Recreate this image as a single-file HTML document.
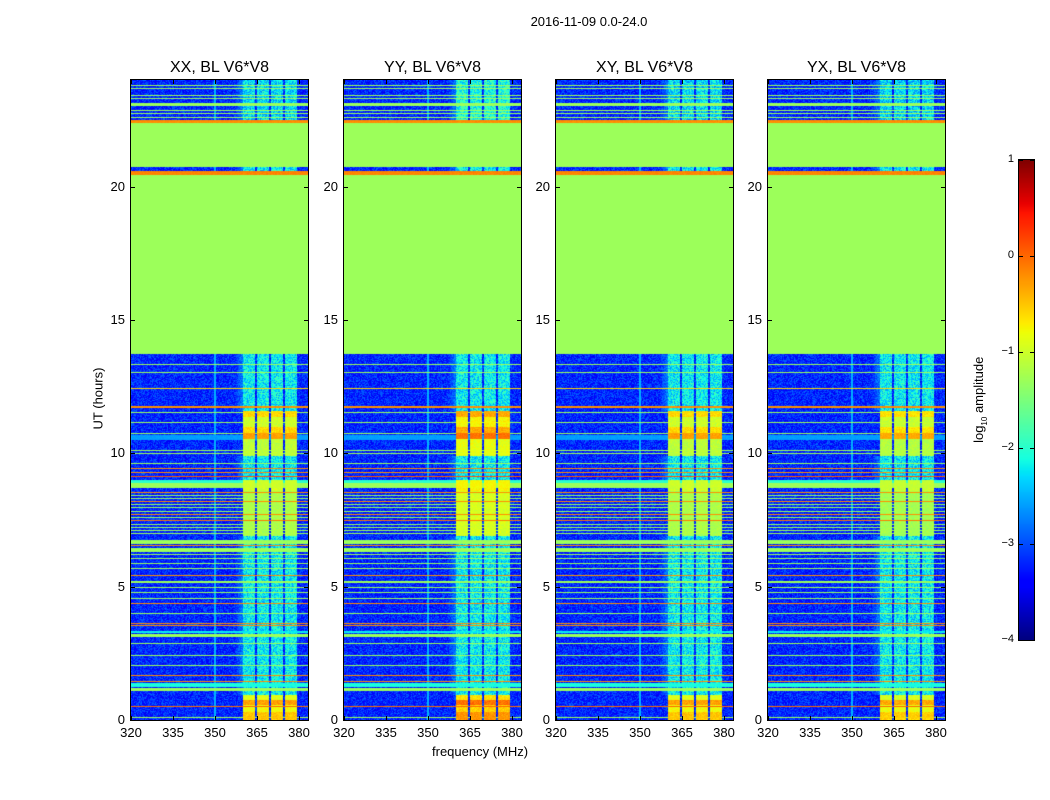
<!DOCTYPE html>
<html><head><meta charset="utf-8"><style>
body{margin:0;background:#fff;width:1050px;height:800px;position:relative;font-family:"Liberation Sans",sans-serif;overflow:hidden}
.abs{position:absolute}
canvas{position:absolute;display:block}
.t{position:absolute;font-size:13px;color:#000;white-space:nowrap}
</style></head><body>
<div class="t" style="left:0;width:1178px;top:14px;text-align:center">2016-11-09 0.0-24.0</div>
<div class="t" style="left:432px;top:744px">frequency (MHz)</div>
<div class="t" style="left:60px;top:391px;transform:rotate(-90deg);width:76px;text-align:center">UT (hours)</div>
<div id="panels"></div>
<canvas id="cb" width="15" height="480" style="left:1019px;top:160px"></canvas>
<div class="abs" style="left:1018px;top:159px;width:15px;height:480px;border:1px solid #000"></div>
<div class="t" style="left:925px;top:391px;transform:rotate(-90deg);width:110px;text-align:center">log<sub style="font-size:8px">10</sub> amplitude</div>
<div id="cbticks"></div>
<script>
// ---- data ----
const panelTitles = ["XX, BL V6*V8","YY, BL V6*V8","XY, BL V6*V8","YX, BL V6*V8"];
const panelLeft = [131,344,556,768];
const panelGain = [0,0.25,0,-0.05];
const xTicks = [320,335,350,365,380];
const yTicks = [0,5,10,15,20];
const cbTicks = [1,0,-1,-2,-3,-4];
const flagged = [[13.72,20.45,-1.3],[20.72,22.42,-1.3]];
const bands = [[20.45,20.57,-0.15],[22.40,22.50,-0.2],[23.02,23.14,-1.3],[8.7,8.9,-1.3],[8.9,9.0,-2.0],[6.6,6.75,-1.3],[6.3,6.45,-1.3],[5.14,5.2,-1.3],[3.1,3.22,-1.3],[3.25,3.35,-2.2],[1.09,1.2,-1.3],[1.24,1.39,-2.1],[11.70,11.78,-0.2],[10.5,10.7,-2.6]];
const lineHours = [23.81,23.7,23.44,23.33,22.87,22.76,22.61,13.35,13.06,12.45,11.55,11.18,10.77,10.12,10.0,9.64,9.45,9.3,9.15,8.55,8.45,8.33,8.22,8.1,7.99,7.84,7.72,7.6,7.49,7.35,7.24,7.12,7.0,6.56,6.22,6.07,5.89,5.7,5.44,4.99,4.8,4.57,4.39,4.01,3.64,3.55,2.89,2.44,2.06,1.69,1.46,0.52,0.11];
const lineVals  = [-1.3,-1.3,-1.3,-1.3,-1.3,-1.3,-1.3,-1.3,-1.3,-0.6,-1.3,-1.3,-1.3,-1.3,-1.3,-1.3,-0.2,-0.2,0.1,-0.2,-1.3,-1.3,-0.2,-1.3,-1.3,-1.3,-0.2,-1.3,-0.1,-1.3,-1.3,-1.3,-1.3,-0.2,-1.3,-1.3,-1.3,-1.3,-0.2,-1.3,-1.3,-1.3,-0.2,-1.3,-0.2,-0.2,-1.3,-1.3,-1.3,-0.2,-0.2,0.0,-1.3];
const rfiCols = [[360.0,364.3],[365.0,369.3],[370.0,374.3],[375.0,379.3]];
const rfiStart = [0.0,0.3,0.55,0.75,6.9,8.6,9.9,10.55,10.75,11.0,11.35,22.5];
const rfiEnd   = [0.3,0.55,0.75,0.95,8.6,9.0,10.55,10.75,11.0,11.35,11.6,24.0];
const rfiVals  = [-0.5,-0.8,-0.3,-0.9,-1.2,-1.0,-1.1,-0.3,-0.6,-1.0,-0.6,-2.3];
const rfiDefault = -2.2;
const bgVal = -3.2;
const vmin=-4, vmax=1;
const fmin=320, fmax=383.2, hmin=0, hmax=24;

// ---- helpers ----
function interp(pts,x){for(let i=1;i<pts.length;i++){if(x<=pts[i][0]){const a=pts[i-1],b=pts[i];return a[1]+(b[1]-a[1])*(x-a[0])/(b[0]-a[0]);}}return pts[pts.length-1][1];}
const R=[[0,0],[0.35,0],[0.66,1],[0.89,1],[1,0.5]],G=[[0,0],[0.125,0],[0.375,1],[0.64,1],[0.91,0],[1,0]],B=[[0,0.5],[0.11,1],[0.34,1],[0.65,0],[1,0]];
function jet(v){let x=(v-vmin)/(vmax-vmin);x=Math.max(0,Math.min(1,x));return [interp(R,x)*255,interp(G,x)*255,interp(B,x)*255];}
function hash(a,b){let h=(a*374761393+b*668265263)|0;h=(h^(h>>>13))*1274126177|0;return ((h^(h>>>16))>>>0)/4294967295-0.5;}
const W=177,H=640;
const xs=f=>(f-fmin)/(fmax-fmin)*W;
const ys=h=>H-(h-hmin)/(hmax-hmin)*H;

const cont=document.getElementById('panels');
panelLeft.forEach((L,p)=>{
  const cv=document.createElement('canvas');
  cv.width=W;cv.height=H;cv.style.left=L+'px';cv.style.top='80px';
  
  
  cont.appendChild(cv);
  const ctx=cv.getContext('2d');const img=ctx.createImageData(W,H);
  const lineRows=lineHours.map(h=>Math.round(ys(h)));
  for(let py=0;py<H;py++){
    const h=hmax-(py+0.5)/H*(hmax-hmin);
    let flag=null;for(const f of flagged)if(h>=f[0]&&h<f[1])flag=f[2];
    let band=null;for(const b of bands)if(h>=b[0]&&h<b[1])band=b[2];
    let li=lineRows.indexOf(py);let lv=li>=0?lineVals[li]:null;
    let col=rfiDefault;let strong=false;
    for(let i=0;i<rfiStart.length;i++)if(h>=rfiStart[i]&&h<rfiEnd[i]){col=rfiVals[i]+panelGain[p];strong=col>-1.5;}
    for(let px=0;px<W;px++){
      const f=fmin+(px+0.5)/W*(fmax-fmin);
      const n=hash(px+p*1000,py);
      let inCol=false;for(const c of rfiCols)if(f>=c[0]&&f<c[1])inCol=true;
      let v;
      if(flag!==null&&lv===null&&band===null)v=flag;
      else{
        v=bgVal+n*0.7;
        if(f>357&&f<360&&!strong)v=Math.max(v,-3.2+(f-357)*0.15+n*0.5);
        if(Math.abs(f-350)<0.2)v=-2.5;
        if(inCol)v=col+n*(strong?0.3:0.9);
        if(band!==null)v=inCol?Math.max(band,col)+n*0.15:band+n*0.1;
        if(lv!==null)v=inCol?Math.max(lv,col):lv;
      }
      const c=jet(v);const k=(py*W+px)*4;
      img.data[k]=c[0];img.data[k+1]=c[1];img.data[k+2]=c[2];img.data[k+3]=255;
    }
  }
  ctx.putImageData(img,0,0);
  const fr=document.createElement('div');fr.className='abs';
  fr.style.cssText=`left:${L-1}px;top:79px;width:${W}px;height:${H}px;border:1px solid #000`;
  
  
  cont.appendChild(fr);
  const tt=document.createElement('div');tt.className='t';
  tt.style.cssText=`left:${L}px;width:${W}px;top:59px;text-align:center;font-size:16px`;
  tt.textContent=panelTitles[p];
  
  
  cont.appendChild(tt);
  xTicks.forEach(t=>{
    const x=L+xs(t);
    const lb=document.createElement('div');lb.className='t';
    lb.style.cssText=`left:${x-20}px;width:40px;text-align:center;top:725px`;
    lb.textContent=t;
    
    
    cont.appendChild(lb);
    ['80px','716px'].forEach(tp=>{const m=document.createElement('div');m.className='abs';m.style.cssText=`left:${x}px;top:${tp};width:1px;height:4px;background:#000`;
    
    
    cont.appendChild(m);});
  });
  yTicks.forEach(t=>{
    const y=80+ys(t);
    const lb=document.createElement('div');lb.className='t';
    lb.style.cssText=`left:${L-44}px;width:38px;text-align:right;top:${y-8}px`;
    lb.textContent=t;
    
    
    cont.appendChild(lb);
    [L,L+W-4].forEach(lx=>{const m=document.createElement('div');m.className='abs';m.style.cssText=`left:${lx}px;top:${y}px;width:4px;height:1px;background:#000`;
    
    
    cont.appendChild(m);});
  });
});
// colorbar
const cb=document.getElementById('cb').getContext('2d');
for(let y=0;y<480;y++){const c=jet(vmax-(y+0.5)/480*(vmax-vmin));cb.fillStyle=`rgb(${c[0]|0},${c[1]|0},${c[2]|0})`;cb.fillRect(0,y,15,1);}
const ct=document.getElementById('cbticks');
cbTicks.forEach(t=>{
  const y=160+(vmax-t)/(vmax-vmin)*480;
  const lb=document.createElement('div');lb.className='t';
  lb.style.cssText=`left:980px;width:34px;text-align:right;top:${y-7}px;font-size:11px`;
  lb.textContent=t<0?'\u2212'+(-t):t;
  
  
  ct.appendChild(lb);
  [1019,1030].forEach(lx=>{const m=document.createElement('div');m.className='abs';m.style.cssText=`left:${lx}px;top:${y}px;width:4px;height:1px;background:#000`;
  
  
  ct.appendChild(m);});
});
</script>
</body></html>
